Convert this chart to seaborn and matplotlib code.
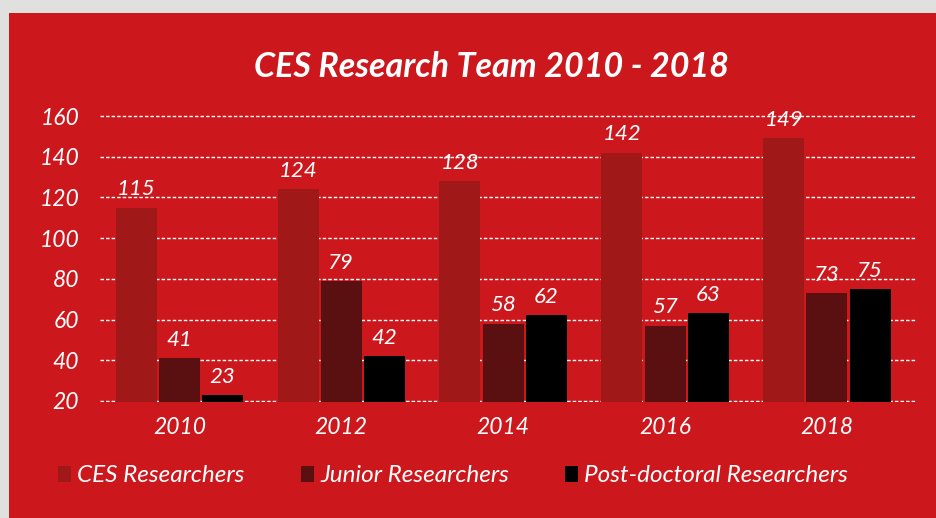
import matplotlib
matplotlib.use("Agg")
import matplotlib.pyplot as plt
from matplotlib.patches import Patch, Rectangle
import pandas as pd
import seaborn as sns

# chart values
years = ["2010", "2012", "2014", "2016", "2018"]
groups = ["CES Researchers", "Junior Researchers", "Post-doctoral Researchers"]
ces = [115, 124, 128, 142, 149]
junior = [41, 79, 58, 57, 73]
postdoc = [23, 42, 62, 63, 75]
y_ticks = [20, 40, 60, 80, 100, 120, 140, 160]

bg_red = "#CC181D"
colors = ["#A01818", "#5A1010", "#000000"]

df = pd.DataFrame({
    "year": years * 3,
    "count": ces + junior + postdoc,
    "group": [groups[0]] * 5 + [groups[1]] * 5 + [groups[2]] * 5,
})

sns.set_theme(style="white")
plt.rcParams["font.family"] = ["Lato", "DejaVu Sans"]

fig = plt.figure(figsize=(9.36, 5.18), dpi=100)
fig.patch.set_facecolor("#E0E0DE")
# red panel behind everything
fig.patches.append(Rectangle((9 / 936, 0), 1, 1 - 13 / 518, transform=fig.transFigure,
                             facecolor=bg_red, edgecolor="none", zorder=-5))

ax = fig.add_axes([100 / 936, 1 - 402 / 518, 816 / 936, 287 / 518])
ax.set_facecolor("none")

sns.barplot(data=df, x="year", y="count", hue="group", palette=colors,
            width=0.8, gap=0.05, saturation=1, linewidth=0, ax=ax,
            legend=False, zorder=3)

ax.set_ylim(19.5, 160.5)
ax.set_xlim(-0.49, 4.55)
ax.set_yticks(y_ticks)
ax.set_xlabel("")
ax.set_ylabel("")
for s in ax.spines.values():
    s.set_visible(False)

ax.yaxis.grid(True, color="white", linestyle=(0, (2.5, 1.5)), linewidth=1.0, zorder=0)
ax.set_axisbelow(True)
ax.tick_params(axis="both", length=0, colors="white", labelsize=16.5)
ax.tick_params(axis="y", pad=15)
ax.tick_params(axis="x", pad=11)
for lbl in ax.get_xticklabels() + ax.get_yticklabels():
    lbl.set_fontstyle("italic")

for cont in ax.containers:
    ax.bar_label(cont, color="white", fontsize=16, fontstyle="italic", padding=6)

fig.text(491 / 936, 1 - 67 / 518, "CES Research Team 2010 - 2018", color="white",
         fontsize=24.5, fontweight="bold", fontstyle="italic", ha="center", va="center")

handles = [Patch(facecolor=c, edgecolor="none") for c in colors]
leg = fig.legend(handles, groups, loc="center left", bbox_to_anchor=(58 / 936, 1 - 476 / 518),
                 ncol=3, frameon=False, handlelength=0.55, handleheight=0.65,
                 handletextpad=0.25, columnspacing=2.3, borderpad=0, borderaxespad=0,
                 prop={"size": 17.5, "style": "italic"})
for t in leg.get_texts():
    t.set_color("white")

fig.savefig("out.png", dpi=100, facecolor=fig.get_facecolor())
